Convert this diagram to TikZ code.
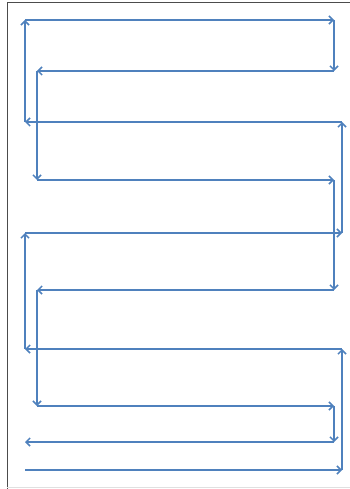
\documentclass[tikz,border=0pt]{standalone}
\usetikzlibrary{arrows.meta}
\definecolor{officeblue}{HTML}{4F81BD}
\begin{document}
\begin{tikzpicture}[x=1pt,y=-1pt,
  seg/.style={draw=officeblue,line width=2.1pt,-{Straight Barb[length=4pt,width=8pt,line width=1.5pt]}},
  frame/.style={draw=black!70,line width=0.8pt}]
\useasboundingbox (0,0) rectangle (350,489);
\fill[white] (0,0) rectangle (350,489);
\draw[frame] (7,489) -- (7,2.5) -- (350,2.5);
\draw[black!12,line width=0.6pt] (7,487) -- (350,487);
\coordinate (A) at (25,470);
\coordinate (B) at (342,470);
\coordinate (C) at (342,349);
\coordinate (D) at (25,349);
\coordinate (E) at (25,233);
\coordinate (F) at (342,233);
\coordinate (G) at (342,122);
\coordinate (H) at (25,122);
\coordinate (I) at (25,20);
\coordinate (J) at (334,20);
\coordinate (K) at (334,71);
\coordinate (L) at (37,71);
\coordinate (M) at (37,180);
\coordinate (N) at (334,180);
\coordinate (O) at (334,290);
\coordinate (P) at (37,290);
\coordinate (Q) at (37,406);
\coordinate (R) at (334,406);
\coordinate (S) at (334,442);
\coordinate (T) at (25,442);
\draw[seg] (A) -- (B);
\draw[seg] (B) -- (C);
\draw[seg] (C) -- (D);
\draw[seg] (D) -- (E);
\draw[seg] (E) -- (F);
\draw[seg] (F) -- (G);
\draw[seg] (G) -- (H);
\draw[seg] (H) -- (I);
\draw[seg] (I) -- (J);
\draw[seg] (J) -- (K);
\draw[seg] (K) -- (L);
\draw[seg] (L) -- (M);
\draw[seg] (M) -- (N);
\draw[seg] (N) -- (O);
\draw[seg] (O) -- (P);
\draw[seg] (P) -- (Q);
\draw[seg] (Q) -- (R);
\draw[seg] (R) -- (S);
\draw[seg] (S) -- (T);
\end{tikzpicture}
\end{document}
